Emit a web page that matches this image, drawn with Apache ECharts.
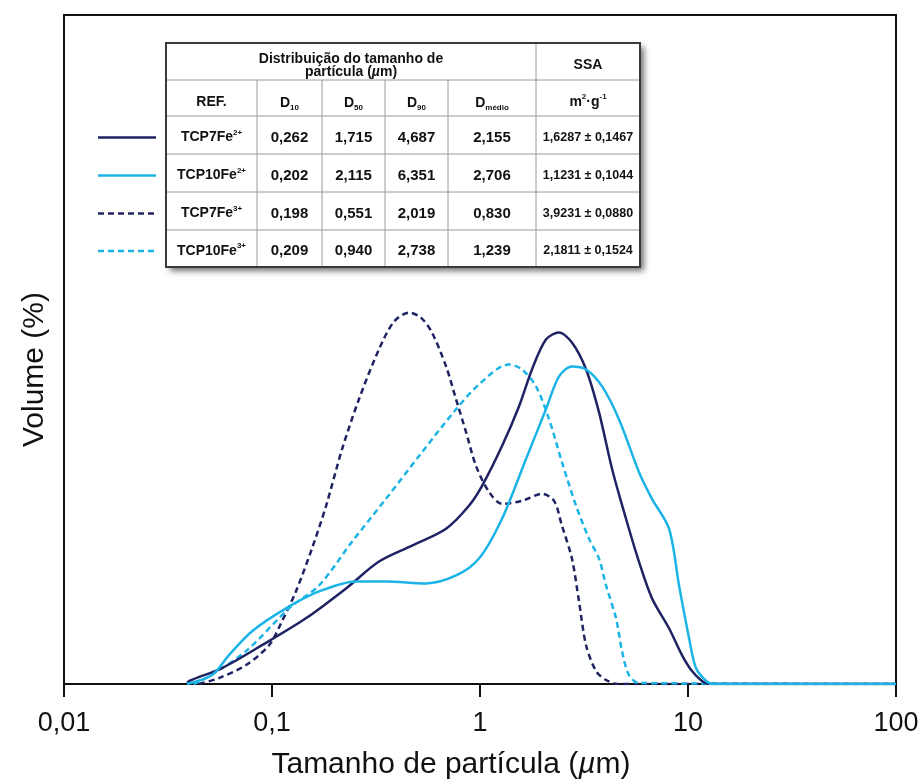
<!DOCTYPE html>
<html><head><meta charset="utf-8">
<script src="https://cdn.jsdelivr.net/npm/echarts@6/dist/echarts.min.js"></script>
<style>html,body{margin:0;padding:0;background:#fff}#c{width:922px;height:780px}</style>
</head><body><div id="c"></div>
<script>
// ---- Curve data: [particle size (µm), volume (arb. %)] ----
const tcp7Fe2 = [[0.039,0],[0.040,0.045],[0.0575,0.238],[0.0895,0.580],[0.1455,0.982],[0.227,1.429],[0.327,1.830],[0.471,2.068],[0.687,2.321],[0.885,2.664],[1.023,2.961],[1.276,3.557],[1.541,4.152],[1.778,4.702],[2.075,5.149],[2.399,5.253],[2.767,5.104],[3.236,4.702],[3.733,4.063],[4.315,3.214],[5.035,2.470],[5.808,1.830],[6.714,1.280],[8.106,0.833],[9.354,0.432],[10.45,0.193],[11.67,0.045],[12.6,0],[100,0]];
const tcp10Fe2 = [[0.039,0],[0.0515,0.134],[0.0621,0.432],[0.0802,0.789],[0.1167,1.131],[0.1683,1.384],[0.2536,1.533],[0.3532,1.533],[0.5495,1.503],[0.7674,1.622],[0.989,1.875],[1.276,2.470],[1.664,3.363],[2.075,4.107],[2.399,4.598],[2.767,4.747],[3.236,4.702],[3.864,4.449],[4.656,3.958],[5.808,3.170],[6.714,2.768],[8.106,2.321],[9.057,1.473],[10.12,0.685],[10.92,0.238],[12.22,0.045],[13.2,0],[100,0]];
const tcp7Fe3 = [[0.0446,0],[0.0556,0.089],[0.0750,0.283],[0.0968,0.580],[0.1117,0.938],[0.1303,1.384],[0.1556,2.024],[0.182,2.664],[0.2173,3.512],[0.2618,4.256],[0.3266,5.000],[0.386,5.417],[0.456,5.551],[0.520,5.476],[0.5875,5.253],[0.687,4.747],[0.767,4.256],[0.857,3.765],[0.957,3.259],[1.105,2.872],[1.276,2.693],[1.592,2.738],[1.986,2.842],[2.270,2.738],[2.477,2.366],[2.767,1.875],[2.992,1.235],[3.236,0.580],[3.614,0.193],[4.036,0.06],[4.656,0],[100,0]];
const tcp10Fe3 = [[0.042,0],[0.0482,0.089],[0.0750,0.491],[0.1208,1.131],[0.1683,1.473],[0.2427,2.128],[0.3532,2.768],[0.5093,3.408],[0.7674,4.107],[0.989,4.479],[1.377,4.777],[1.592,4.702],[1.858,4.449],[2.148,3.958],[2.477,3.318],[2.897,2.664],[3.342,2.173],[3.733,1.875],[4.036,1.473],[4.508,0.982],[4.819,0.491],[5.200,0.134],[5.808,0.015],[100,0]];

// ---- Table data ----
const refNames = ['TCP7Fe','TCP10Fe','TCP7Fe','TCP10Fe'];
const refCharges = ['2+','2+','3+','3+'];
const d10 = ['0,262','0,202','0,198','0,209'];
const d50 = ['1,715','2,115','0,551','0,940'];
const d90 = ['4,687','6,351','2,019','2,738'];
const dMedio = ['2,155','2,706','0,830','1,239'];
const ssa = ['1,6287 ± 0,1467','1,1231 ± 0,1044','3,9231 ± 0,0880','2,1811 ± 0,1524'];

const DARK = '#1f2363';
const CYAN = '#1cb4e6';
const seriesColors = [DARK, CYAN, DARK, CYAN];
const seriesDashed = [false, false, true, true];
const seriesData = [tcp7Fe2, tcp10Fe2, tcp7Fe3, tcp10Fe3];

const chart = echarts.init(document.getElementById('c'));

// Table geometry
const colX = [166,257,322,385,448,536,640];
const rowY = [43,80,116,154,192,230,267];
const FONT = 'Liberation Sans, Arial, Helvetica, sans-serif';
const g = [];
g.push({type:'rect', shape:{x:colX[0], y:rowY[0], width:colX[6]-colX[0], height:rowY[6]-rowY[0]},
  style:{fill:'#fff', shadowBlur:6, shadowOffsetX:4, shadowOffsetY:4, shadowColor:'rgba(0,0,0,0.55)'}, z:10});
const inner = {stroke:'#9a9a9a', lineWidth:1};
for (let r = 1; r <= 5; r++) g.push({type:'line', shape:{x1:colX[0], y1:rowY[r], x2:colX[6], y2:rowY[r]}, style:inner, z:11});
for (let c = 1; c <= 4; c++) g.push({type:'line', shape:{x1:colX[c], y1:rowY[1], x2:colX[c], y2:rowY[6]}, style:inner, z:11});
g.push({type:'line', shape:{x1:colX[5], y1:rowY[0], x2:colX[5], y2:rowY[6]}, style:inner, z:11});
g.push({type:'rect', shape:{x:colX[0], y:rowY[0], width:colX[6]-colX[0], height:rowY[6]-rowY[0]},
  style:{fill:null, stroke:'#3a3a3a', lineWidth:2}, z:12});

function txt(x, y, text, size, rich) {
  g.push({type:'text', x:x, y:y, z:13, style:{text:text, fill:'#111', font:'bold '+size+'px '+FONT,
    textAlign:'center', textVerticalAlign:'middle', rich:rich||undefined}});
}
const cx = i => (colX[i]+colX[i+1])/2;
const cy = i => (rowY[i]+rowY[i+1])/2;
const headRich = {b:{fontSize:14, fontWeight:'bold', fontFamily:FONT, fill:'#111', lineHeight:13},
                  i:{fontSize:14, fontWeight:'bold', fontStyle:'italic', fontFamily:FONT, fill:'#111', lineHeight:13}};
txt((colX[0]+colX[5])/2, cy(0)+4, '{b|Distribuição do tamanho de}\n{b|partícula (}{i|µ}{b|m)}', 14, headRich);
txt(cx(5), cy(0)+4, 'SSA', 14);
txt(cx(0), cy(1)+4, 'REF.', 14);
const subRich = {d:{fontSize:14, fontWeight:'bold', fontFamily:FONT, fill:'#111', lineHeight:18},
                 s:{fontSize:8, fontWeight:'bold', fontFamily:FONT, fill:'#111', verticalAlign:'bottom', lineHeight:18},
                 u:{fontSize:8, fontWeight:'bold', fontFamily:FONT, fill:'#111', verticalAlign:'top', lineHeight:18}};
txt(cx(1), cy(1)+5, '{d|D}{s|10}', 14, subRich);
txt(cx(2), cy(1)+5, '{d|D}{s|50}', 14, subRich);
txt(cx(3), cy(1)+5, '{d|D}{s|90}', 14, subRich);
txt(cx(4), cy(1)+5, '{d|D}{s|médio}', 14, subRich);
txt(cx(5), cy(1)+4, '{d|m}{u|2}{d|·g}{u|-1}', 14, subRich);
const refRich = {n:{fontSize:14, fontWeight:'bold', fontFamily:FONT, fill:'#111', lineHeight:18},
                 u:{fontSize:8, fontWeight:'bold', fontFamily:FONT, fill:'#111', verticalAlign:'top', lineHeight:18}};
for (let k = 0; k < 4; k++) {
  const y = cy(k+2) + 2.5;
  txt(cx(0), y, '{n|'+refNames[k]+'}{u|'+refCharges[k]+'}', 14, refRich);
  txt(cx(1), y, d10[k], 15);
  txt(cx(2), y, d50[k], 15);
  txt(cx(3), y, d90[k], 15);
  txt(cx(4), y, dMedio[k], 15);
  txt(cx(5), y, ssa[k], 12.5);
  g.push({type:'line', z:13, shape:{x1:98, y1:y, x2:156, y2:y},
    style:{stroke:seriesColors[k], lineWidth:2.5, lineDash: seriesDashed[k] ? [6,4] : null}});
}

const series = seriesData.map((d, k) => ({
  type:'line', data:d, showSymbol:false, symbol:'none', smooth:0.3, z:3+(k<2?1:0),
  lineStyle:{color:seriesColors[k], width:2.5, type: seriesDashed[k] ? [6,4] : 'solid'},
  animation:false
}));

chart.setOption({
  animation:false,
  backgroundColor:'#fff',
  grid:{left:64, right:26, top:15, bottom:96, show:true, borderColor:'#111', borderWidth:2,
    backgroundColor:'transparent', containLabel:false, outerBoundsMode:'none'},
  xAxis:{type:'log', logBase:10, min:0.01, max:100,
    axisLine:{show:true, lineStyle:{color:'#111', width:2}},
    axisTick:{show:true, inside:false, length:13, lineStyle:{color:'#111', width:2}},
    minorTick:{show:false}, splitLine:{show:false},
    axisLabel:{margin:26, fontSize:27, color:'#111', fontFamily:FONT,
      formatter: v => String(v).replace('.', ',')},
    name:'Tamanho de partícula ({i|µ}m)', nameLocation:'middle', nameGap:66,
    nameTextStyle:{fontSize:30, color:'#111', fontFamily:FONT, padding:[0,58,0,0],
      rich:{i:{fontSize:30, fontStyle:'italic', color:'#111', fontFamily:FONT}}}
  },
  yAxis:{type:'value', min:0, max:10,
    axisLine:{show:true, lineStyle:{color:'#111', width:2}},
    axisTick:{show:false}, axisLabel:{show:false}, splitLine:{show:false},
    name:'Volume (%)', nameLocation:'middle', nameGap:14,
    nameTextStyle:{fontSize:30, color:'#111', fontFamily:FONT, padding:[0,40,0,0]}
  },
  series: series,
  graphic: g
});
</script></body></html>
